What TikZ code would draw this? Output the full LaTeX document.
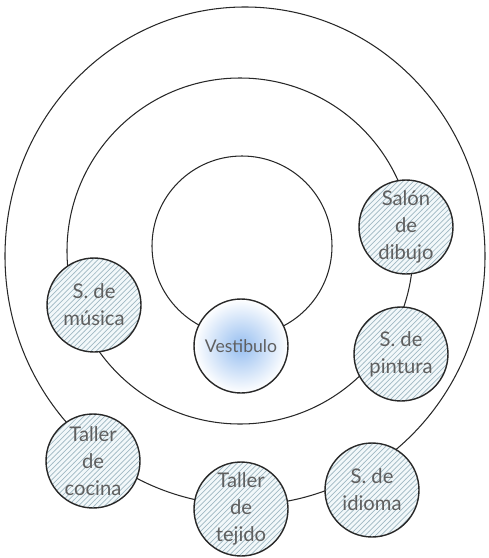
\documentclass[tikz,border=0pt]{standalone}
\usepackage{fontspec}
\setmainfont{Lato}
\usetikzlibrary{patterns}
\definecolor{hatchbg}{RGB}{242,248,250}
\definecolor{hatchln}{RGB}{160,184,195}
\definecolor{vestblue}{RGB}{150,190,240}
\definecolor{ringgray}{RGB}{40,40,40}
\definecolor{txtgray}{RGB}{95,95,95}

\begin{document}
\begin{tikzpicture}[x=0.02cm,y=-0.02cm,
  ring/.style={line width=.6pt,draw=ringgray},
  room/.style={circle,draw=ringgray,line width=.8pt,minimum size=1.88cm,inner sep=0pt,
    align=center,text=txtgray,font=\fontsize{11.5}{15.3}\selectfont,
    preaction={fill=hatchbg},pattern=north east lines,pattern color=hatchln},
  hall/.style={circle,draw=ringgray,line width=.8pt,minimum size=1.88cm,inner sep=0pt,
    text=txtgray,font=\fontsize{10}{12}\selectfont,
    shading=radial,inner color=vestblue,outer color=white}]
  \useasboundingbox (0,0) rectangle (488,558);
  % the three rings
  \draw[ring] (245,256) ellipse [x radius=240,y radius=249];
  \draw[ring] (240,251) circle [radius=173];
  \draw[ring] (242,246) circle [radius=90];
  % rooms
  \node[hall] (vestibulo) at (241,346) {Vestibulo};
  \foreach \n/\x/\y/\t in {dibujo/406/227/{Salón\\de\\dibujo},
      pintura/401/354/{S. de\\pintura}, musica/94/305/{S. de\\música},
      cocina/93/461/{Taller\\de\\cocina}, tejido/241/509/{Taller\\de\\tejido},
      idioma/372/490/{S. de\\idioma}} {
    \node[room] (\n) at (\x,\y) {\t};
  }
\end{tikzpicture}
\end{document}
